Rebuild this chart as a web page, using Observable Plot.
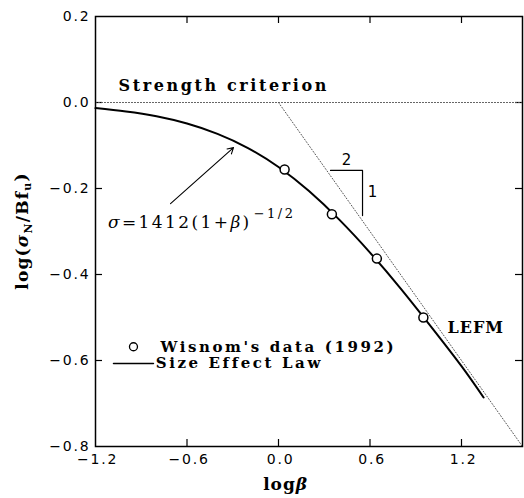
<!DOCTYPE html>
<html>
<head>
<meta charset="utf-8">
<script src="https://cdn.jsdelivr.net/npm/d3@7"></script>
<script src="https://cdn.jsdelivr.net/npm/@observablehq/plot@0.6"></script>
<style>
  html, body { margin: 0; padding: 0; background: #fff; }
  svg { display: block; }
  .wide text { letter-spacing: 2.6px; }
  .lefm text { letter-spacing: 1px; }
</style>
</head>
<body>
<div id="chart"></div>
<script>
// Size effect law curve: x = log beta, y = log(sigma_N / B f_u)
const curveX = [-1.2, -1.0, -0.8, -0.6, -0.4, -0.2, 0.0, 0.2, 0.4, 0.6, 0.8, 1.0, 1.2, 1.345];
const curveY = [-0.013, -0.021, -0.032, -0.049, -0.073, -0.106, -0.150, -0.206, -0.273, -0.349, -0.432, -0.521, -0.613, -0.686];
// Wisnom's data (1992)
const dataX = [0.04, 0.35, 0.645, 0.95];
const dataY = [-0.156, -0.26, -0.363, -0.50];
// LEFM asymptote (slope -1/2) and strength criterion
const lefmX = [0.0, 1.6];
const lefmY = [0.0, -0.8];
const strengthX = [-1.2, 1.6];
const strengthY = [0.0, 0.0];
// ticks
const xTicks = [-1.2, -0.6, 0.0, 0.6, 1.2];
const yTicks = [0.2, 0.0, -0.2, -0.4, -0.6, -0.8];
const xInner = [-0.6, 0.0, 0.6, 1.2];
const yInner = [0.0, -0.2, -0.4, -0.6];

const curve = curveX.map((x, i) => ({x, y: curveY[i]}));
const pts = dataX.map((x, i) => ({x, y: dataY[i]}));
const lefm = lefmX.map((x, i) => ({x, y: lefmY[i]}));
const strength = strengthX.map((x, i) => ({x, y: strengthY[i]}));

const fmt = d => (d < 0 ? "\u2212" : "") + Math.abs(d).toFixed(1);
const serif = "'DejaVu Serif', serif";
const W = 524, H = 498, mL = 95, mR = 2, mT = 16, mB = 52;
const innerW = W - mL - mR, innerH = H - mT - mB, tk = 7;

const plot = Plot.plot({
  width: W, height: H,
  marginLeft: mL, marginRight: mR, marginTop: mT, marginBottom: mB,
  x: {domain: [-1.2, 1.6]},
  y: {domain: [-0.8, 0.2]},
  style: {fontFamily: "'DejaVu Sans', sans-serif", fontSize: "14px", background: "#fff", color: "#000", letterSpacing: "1.8px"},
  marks: [
    Plot.axisX(xTicks, {tickSize: 0, tickPadding: 8, tickFormat: fmt, label: null, fontSize: 14, dx: 2}),
    Plot.axisY(yTicks, {tickSize: 0, tickPadding: 5, tickFormat: fmt, label: null, fontSize: 14}),
    // inward ticks on all four sides
    Plot.tickX(xInner, {x: d => d, insetTop: innerH - tk, stroke: "#000", strokeWidth: 1.2}),
    Plot.tickX(xInner, {x: d => d, insetBottom: innerH - tk, stroke: "#000", strokeWidth: 1.2}),
    Plot.tickY(yInner, {y: d => d, insetRight: innerW - tk, stroke: "#000", strokeWidth: 1.2}),
    Plot.tickY(yInner, {y: d => d, insetLeft: innerW - tk, stroke: "#000", strokeWidth: 1.2}),
    Plot.line(strength, {x: "x", y: "y", stroke: "#555", strokeWidth: 1, strokeDasharray: "1,2"}),
    Plot.line(lefm, {x: "x", y: "y", stroke: "#555", strokeWidth: 1, strokeDasharray: "1,2"}),
    Plot.line(curve, {x: "x", y: "y", curve: "natural", stroke: "#000", strokeWidth: 2}),
    Plot.dot(pts, {x: "x", y: "y", r: 4.5, stroke: "#000", strokeWidth: 1.5, fill: "#fff"}),
    // slope triangle 2:1
    Plot.line([{x: 0.341, y: -0.158}, {x: 0.551, y: -0.158}, {x: 0.551, y: -0.263}], {x: "x", y: "y", stroke: "#000", strokeWidth: 1.2}),
    Plot.text(["2"], {x: 0.452, y: -0.133, text: d => d, fontSize: 15, fontFamily: "'DejaVu Sans', sans-serif"}),
    Plot.text(["1"], {x: 0.623, y: -0.209, text: d => d, fontSize: 15, fontFamily: "'DejaVu Sans', sans-serif"}),
    // arrow
    Plot.arrow([{x1: -0.708, y1: -0.235, x2: -0.295, y2: -0.105}], {x1: "x1", y1: "y1", x2: "x2", y2: "y2", stroke: "#000", strokeWidth: 1.1, headLength: 9}),
    // annotations
    Plot.text(["Strength criterion"], {x: -1.049, y: 0.0395, text: d => d, textAnchor: "start", fontSize: 16, fontWeight: "bold", fontFamily: serif, className: "wide"}),
    Plot.text(["LEFM"], {x: 1.108, y: -0.523, text: d => d, textAnchor: "start", fontSize: 16, fontWeight: "bold", fontFamily: serif, className: "lefm"}),
    // legend
    Plot.dot([0], {x: -0.951, y: -0.568, r: 4, stroke: "#000", strokeWidth: 1.3, fill: "#fff"}),
    Plot.text(["Wisnom's data (1992)"], {x: -0.774, y: -0.568, text: d => d, textAnchor: "start", fontSize: 15, fontWeight: "bold", fontFamily: serif, className: "wide"}),
    Plot.line([{x: -1.082, y: -0.607}, {x: -0.820, y: -0.607}], {x: "x", y: "y", stroke: "#000", strokeWidth: 1.5}),
    Plot.text(["Size Effect Law"], {x: -0.805, y: -0.607, text: d => d, textAnchor: "start", fontSize: 15, fontWeight: "bold", fontFamily: serif, className: "wide"}),
    Plot.frame({stroke: "#000", strokeWidth: 1.5})
  ]
});

const svg = d3.select(plot);
const sx = plot.scale("x"), sy = plot.scale("y");

// formula sigma = 1412(1+beta)^-1/2
const f = svg.append("text")
  .attr("x", sx.apply(-1.115)).attr("y", sy.apply(-0.279))
  .attr("dy", "0.35em").attr("text-anchor", "start")
  .attr("font-family", serif).attr("font-size", 17).style("letter-spacing", "2.4px");
f.append("tspan").attr("font-style", "italic").text("σ");
f.append("tspan").text("=1412(1+");
f.append("tspan").attr("font-style", "italic").text("β");
f.append("tspan").text(")");
f.append("tspan").attr("font-size", 13).attr("dy", "-0.8em").attr("dx", "2").style("letter-spacing", "2.5px").text("\u22121/2");

// y axis label log(sigma_N / B f_u)
const yl = svg.append("text")
  .attr("transform", `translate(22,${sy.apply(-0.3)}) rotate(-90)`)
  .attr("text-anchor", "middle").attr("dy", "0.35em")
  .attr("font-family", serif).attr("font-weight", "bold").attr("font-size", 17).style("letter-spacing", "1.2px");
yl.append("tspan").text("log(");
yl.append("tspan").attr("font-style", "italic").text("σ");
yl.append("tspan").attr("font-size", 11).attr("dy", "0.35em").text("N");
yl.append("tspan").attr("dy", "-0.25em").text("/Bf");
yl.append("tspan").attr("font-size", 11).attr("dy", "0.35em").text("u");
yl.append("tspan").attr("dy", "-0.25em").text(")");

// x axis label log beta
const xl = svg.append("text")
  .attr("x", sx.apply(0.05)).attr("y", 484)
  .attr("text-anchor", "middle").attr("dy", "0.35em")
  .attr("font-family", serif).attr("font-weight", "bold").attr("font-size", 17).style("letter-spacing", "1px");
xl.append("tspan").text("log");
xl.append("tspan").attr("font-style", "italic").text("β");

document.getElementById("chart").appendChild(plot);
</script>
</body>
</html>
